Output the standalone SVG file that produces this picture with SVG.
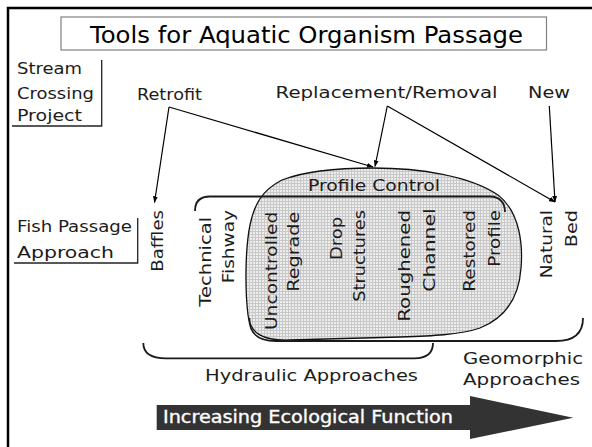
<svg xmlns="http://www.w3.org/2000/svg" width="592" height="447" viewBox="0 0 592 447">
  <style>
    .lbl { font-family: "DejaVu Sans", "Liberation Sans", sans-serif; font-size: 16.5px; fill: #1c1c1c; }
    .title { font-family: "DejaVu Sans", "Liberation Sans", sans-serif; font-size: 23px; fill: #000; }
    .band { font-family: "DejaVu Sans", "Liberation Sans", sans-serif; font-size: 17px; fill: #fff; stroke: #fff; stroke-width: 0.35; }
    .rule { fill: none; stroke: #222; stroke-width: 1.3; }
    .brace { fill: none; stroke: #1a1a1a; stroke-width: 1.8; }
    .link { fill: none; stroke: #000; stroke-width: 1.2; marker-end: url(#tip); }
  </style>
  <defs>
    <pattern id="grid" width="3" height="3" patternUnits="userSpaceOnUse">
      <rect width="3" height="3" fill="#ececec"/>
      <path d="M0 0.5 H3 M0.5 0 V3" stroke="#c8c8c8" stroke-width="1"/>
    </pattern>
    <marker id="tip" viewBox="0 0 8 6" refX="7.5" refY="3" markerWidth="6.5" markerHeight="5" markerUnits="userSpaceOnUse" orient="auto">
      <path d="M0 0 L8 3 L0 6 Z" fill="#000"/>
    </marker>
  </defs>

  <rect width="592" height="447" fill="#fff"/>
  <!-- page frame -->
  <path d="M8 447 V8 H592" fill="none" stroke="#000" stroke-width="2.5"/>

  <!-- title -->
  <g id="title">
    <rect x="61" y="17" width="485.5" height="33" fill="#fff" stroke="#808080" stroke-width="1.2"/>
    <text class="title" x="90" y="43" textLength="433" lengthAdjust="spacingAndGlyphs">Tools for Aquatic Organism Passage</text>
  </g>

  <!-- row headings -->
  <g id="stream-crossing-project">
    <path class="rule" d="M101.7 60 V126 H12"/>
    <text class="lbl" x="17" y="74" textLength="65" lengthAdjust="spacingAndGlyphs">Stream</text>
    <text class="lbl" x="17" y="98.5" textLength="77" lengthAdjust="spacingAndGlyphs">Crossing</text>
    <text class="lbl" x="17" y="121" textLength="65" lengthAdjust="spacingAndGlyphs">Project</text>
  </g>
  <g id="fish-passage-approach">
    <path class="rule" d="M137.7 218 V263 H14"/>
    <text class="lbl" x="17" y="231.7" textLength="115" lengthAdjust="spacingAndGlyphs">Fish Passage</text>
    <text class="lbl" x="17" y="257.7" textLength="97" lengthAdjust="spacingAndGlyphs">Approach</text>
  </g>

  <!-- project types -->
  <g id="retrofit">
    <text class="lbl" x="137" y="100" textLength="65" lengthAdjust="spacingAndGlyphs">Retrofit</text>
  </g>
  <g id="replacement-removal">
    <text class="lbl" x="275.6" y="97.7" textLength="222" lengthAdjust="spacingAndGlyphs">Replacement/Removal</text>
  </g>
  <g id="new">
    <text class="lbl" x="528" y="97.7" textLength="42" lengthAdjust="spacingAndGlyphs">New</text>
  </g>

  <!-- profile control region -->
  <g id="profile-control">
    <path d="M373 168 C420 168 470 176 498 195 C520 212 523 245 521 268 C519 298 505 318 480 328 C460 335 430 336 400 337 L290 340 C262 341 250 333 248 315 C245 290 245 250 250 225 C254 205 262 190 282 180 C305 171 340 168 373 168 Z" fill="url(#grid)" stroke="#111" stroke-width="1.3"/>
    <text class="lbl" x="308" y="190.7" textLength="132" lengthAdjust="spacingAndGlyphs">Profile Control</text>
  </g>

  <!-- groupings -->
  <g id="braces">
    <path class="brace" d="M195 211 C195 202 199 196.5 210 196.5 L490 196.5 C500 196.5 505 203 505 212" stroke-width="2.2"/>
    <path class="brace" d="M143.3 343 C143.3 353 150 358.3 166 358.3 L414 358.3 C427 358.3 433 353 433 343"/>
    <path class="brace" d="M249.3 318 C249.3 333 257 341 276 341 L556 341 C574 341 583 333 583 318"/>
  </g>

  <!-- approaches (vertical labels) -->
  <g id="baffles">
    <text class="lbl" transform="translate(163 271.7) rotate(-90)" textLength="61.7" lengthAdjust="spacingAndGlyphs">Baffles</text>
  </g>
  <g id="technical-fishway">
    <text class="lbl" transform="translate(210.7 306.7) rotate(-90)" textLength="90" lengthAdjust="spacingAndGlyphs">Technical</text>
    <text class="lbl" transform="translate(233.5 283.3) rotate(-90)" textLength="73.3" lengthAdjust="spacingAndGlyphs">Fishway</text>
  </g>
  <g id="uncontrolled-regrade">
    <text class="lbl" transform="translate(276.7 330) rotate(-90)" textLength="118.3" lengthAdjust="spacingAndGlyphs">Uncontrolled</text>
    <text class="lbl" transform="translate(298.5 291.7) rotate(-90)" textLength="80" lengthAdjust="spacingAndGlyphs">Regrade</text>
  </g>
  <g id="drop-structures">
    <text class="lbl" transform="translate(341.7 260) rotate(-90)" textLength="43.3" lengthAdjust="spacingAndGlyphs">Drop</text>
    <text class="lbl" transform="translate(365 301.7) rotate(-90)" textLength="91.7" lengthAdjust="spacingAndGlyphs">Structures</text>
  </g>
  <g id="roughened-channel">
    <text class="lbl" transform="translate(410 321.7) rotate(-90)" textLength="111.7" lengthAdjust="spacingAndGlyphs">Roughened</text>
    <text class="lbl" transform="translate(435 291.7) rotate(-90)" textLength="83.3" lengthAdjust="spacingAndGlyphs">Channel</text>
  </g>
  <g id="restored-profile">
    <text class="lbl" transform="translate(475 291.7) rotate(-90)" textLength="81.7" lengthAdjust="spacingAndGlyphs">Restored</text>
    <text class="lbl" transform="translate(500 266.7) rotate(-90)" textLength="56.7" lengthAdjust="spacingAndGlyphs">Profile</text>
  </g>
  <g id="natural-bed">
    <text class="lbl" transform="translate(551.7 278.3) rotate(-90)" textLength="68.3" lengthAdjust="spacingAndGlyphs">Natural</text>
    <text class="lbl" transform="translate(576.7 247.3) rotate(-90)" textLength="37.3" lengthAdjust="spacingAndGlyphs">Bed</text>
  </g>

  <!-- group captions -->
  <g id="hydraulic-approaches">
    <text class="lbl" x="205" y="380.7" textLength="213" lengthAdjust="spacingAndGlyphs">Hydraulic Approaches</text>
  </g>
  <g id="geomorphic-approaches">
    <text class="lbl" x="463" y="363.5" textLength="120" lengthAdjust="spacingAndGlyphs">Geomorphic</text>
    <text class="lbl" x="463" y="385" textLength="117" lengthAdjust="spacingAndGlyphs">Approaches</text>
  </g>

  <!-- connectors -->
  <g id="connectors">
    <path class="link" d="M169 107 L154.5 202.5"/>
    <path class="link" d="M169 107 L373 167"/>
    <path class="link" d="M387.3 106 L375 166.5"/>
    <path class="link" d="M387.3 106 L555 202"/>
    <path class="link" d="M549.3 106 L555 202"/>
  </g>

  <!-- ecological function arrow -->
  <g id="ecological-function">
    <path d="M156.7 405 H470 V396 L573.3 417.7 L470 439 V430 H156.7 Z" fill="#333"/>
    <text class="band" x="163" y="423" textLength="290" lengthAdjust="spacingAndGlyphs">Increasing Ecological Function</text>
  </g>
</svg>
